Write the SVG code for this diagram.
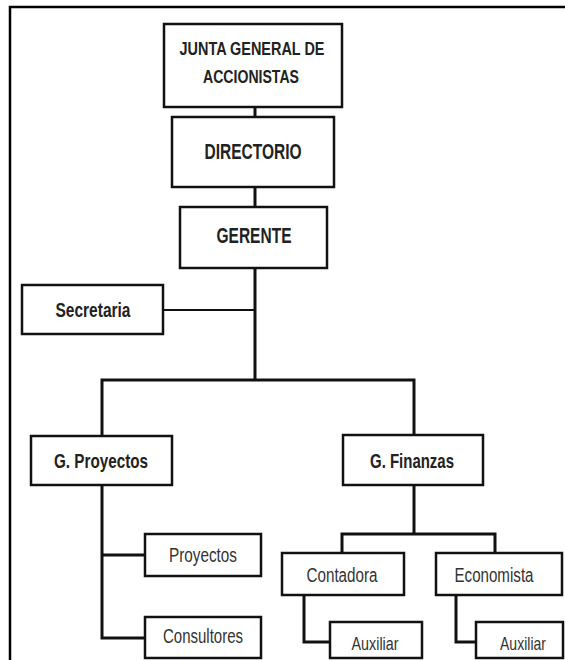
<svg xmlns="http://www.w3.org/2000/svg" width="565" height="660" viewBox="0 0 565 660">
<style>
.box{fill:#fff;stroke:#111;stroke-width:2.5}
.b{font-family:"Liberation Sans",Arial,sans-serif;font-weight:bold;fill:#222;text-anchor:middle}
.r{font-family:"Liberation Sans",Arial,sans-serif;fill:#333;text-anchor:middle}
.c{fill:none;stroke:#111;stroke-width:3}
.t{fill:none;stroke:#111;stroke-width:2}
</style>
<rect width="565" height="660" fill="#fff"/>
<path d="M10,660 V7 H565" fill="none" stroke="#000" stroke-width="2.5"/>
<g id="connectors">
<path class="c" d="M255,107 V117"/>
<path class="c" d="M255,187 V207"/>
<path class="c" d="M255,268 V380"/>
<path class="t" d="M163,310 H255"/>
<path class="c" d="M102,436 V380 H414 V435"/>
<path class="c" d="M102,485 V638 H145"/>
<path class="c" d="M102,555 H145"/>
<path class="c" d="M414,485 V534"/>
<path class="c" d="M342,553 V534 H495 V553"/>
<path class="c" d="M304,595 V642 H330"/>
<path class="c" d="M456,595 V642 H476"/>
</g>
<g id="junta"><rect class="box" x="164" y="24" width="178" height="83"/>
<text class="b" x="252" y="55" font-size="18.5" textLength="145" lengthAdjust="spacingAndGlyphs">JUNTA GENERAL DE</text>
<text class="b" x="251" y="83" font-size="18.5" textLength="96" lengthAdjust="spacingAndGlyphs">ACCIONISTAS</text></g>
<g id="directorio"><rect class="box" x="172" y="117" width="162" height="70"/>
<text class="b" x="253" y="159" font-size="22" textLength="97" lengthAdjust="spacingAndGlyphs">DIRECTORIO</text></g>
<g id="gerente"><rect class="box" x="180" y="207" width="147" height="61"/>
<text class="b" x="254" y="243" font-size="22" textLength="75" lengthAdjust="spacingAndGlyphs">GERENTE</text></g>
<g id="secretaria"><rect class="box" x="22" y="285" width="141" height="49"/>
<text class="b" x="93" y="317" font-size="21" textLength="75" lengthAdjust="spacingAndGlyphs">Secretaria</text></g>
<g id="gproyectos"><rect class="box" x="31" y="436" width="141" height="49"/>
<text class="b" x="101" y="468" font-size="21" textLength="94" lengthAdjust="spacingAndGlyphs">G. Proyectos</text></g>
<g id="gfinanzas"><rect class="box" x="343" y="435" width="140" height="50"/>
<text class="b" x="412" y="468" font-size="21" textLength="84" lengthAdjust="spacingAndGlyphs">G. Finanzas</text></g>
<g id="proyectos"><rect class="box" x="145" y="534" width="116" height="42"/>
<text class="r" x="203" y="562" font-size="20" textLength="68" lengthAdjust="spacingAndGlyphs">Proyectos</text></g>
<g id="consultores"><rect class="box" x="145" y="617" width="116" height="41"/>
<text class="r" x="203" y="643" font-size="20" textLength="80" lengthAdjust="spacingAndGlyphs">Consultores</text></g>
<g id="contadora"><rect class="box" x="282" y="553" width="122" height="42"/>
<text class="r" x="342" y="582" font-size="20" textLength="71" lengthAdjust="spacingAndGlyphs">Contadora</text></g>
<g id="economista"><rect class="box" x="436" y="553" width="126" height="42"/>
<text class="r" x="494" y="582" font-size="20" textLength="79" lengthAdjust="spacingAndGlyphs">Economista</text></g>
<g id="auxiliar1"><rect class="box" x="330" y="622" width="92" height="36"/>
<text class="r" x="375" y="650" font-size="19" textLength="47" lengthAdjust="spacingAndGlyphs">Auxiliar</text></g>
<g id="auxiliar2"><rect class="box" x="476" y="622" width="87" height="36"/>
<text class="r" x="523" y="650" font-size="19" textLength="46" lengthAdjust="spacingAndGlyphs">Auxiliar</text></g>
</svg>
